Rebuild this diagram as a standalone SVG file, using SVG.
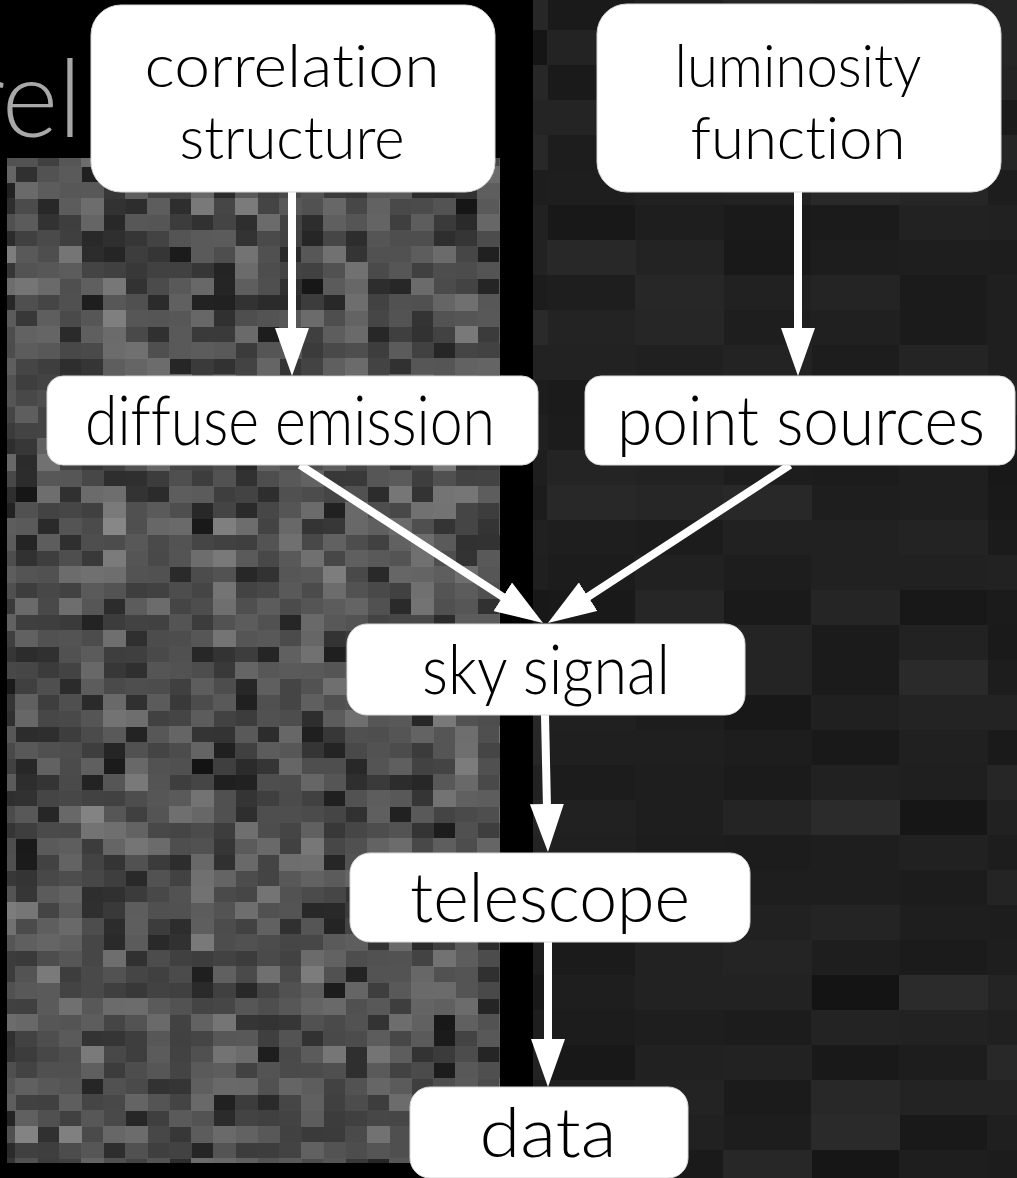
<svg xmlns="http://www.w3.org/2000/svg" width="1017" height="1178" viewBox="0 0 1017 1178">
  <style>
    .node rect { fill: #ffffff; stroke: #d8d8d8; stroke-width: 1; }
    .node text { font-family: Lato, "Open Sans", "Noto Sans", sans-serif; font-weight: 300; font-size: 68px; fill: #000000; text-anchor: middle; font-variant-ligatures: none; }
    .node text.two { font-size: 60px; }
    .edge { stroke: #ffffff; stroke-width: 8; fill: none; marker-end: url(#head); }
    .bgtext { font-family: Lato, "Open Sans", "Noto Sans", sans-serif; font-weight: 300; font-size: 108px; fill: #a8a8a8; text-anchor: end; }
  </style>
  <defs>
    <marker id="head" markerUnits="userSpaceOnUse" markerWidth="48" markerHeight="34" refX="4" refY="17" orient="auto" viewBox="0 0 48 34">
      <path d="M0,0 L48,17 L0,34 Z" fill="#ffffff"/>
    </marker>
    <filter id="pixL" filterUnits="userSpaceOnUse" primitiveUnits="userSpaceOnUse" x="-7" y="150" width="528" height="1024" color-interpolation-filters="sRGB">
      <feTurbulence type="fractalNoise" baseFrequency="0.9" numOctaves="1" seed="7" result="n"/>
      <feColorMatrix in="n" type="matrix" values="0.8 0 0 0 -0.1  0.8 0 0 0 -0.1  0.8 0 0 0 -0.1  0 0 0 0 1" result="g"/>
      <feFlood x="4" y="158" width="1" height="1" flood-color="#ffffff" result="dot"/>
      <feComposite in="dot" in2="dot" operator="over" x="-7" y="150" width="22" height="16" result="cell"/>
      <feTile in="cell" result="grid"/>
      <feComposite in="g" in2="grid" operator="in" result="pts"/>
      <feMorphology in="pts" operator="dilate" radius="11 8"/>
    </filter>
    <filter id="pixR" filterUnits="userSpaceOnUse" primitiveUnits="userSpaceOnUse" x="459" y="-5" width="616" height="1190" color-interpolation-filters="sRGB">
      <feTurbulence type="fractalNoise" baseFrequency="0.9" numOctaves="1" seed="3" result="n"/>
      <feColorMatrix in="n" type="matrix" values="0.18 0 0 0 0.035  0.18 0 0 0 0.035  0.18 0 0 0 0.035  0 0 0 0 1" result="g"/>
      <feFlood x="503" y="12" width="1" height="1" flood-color="#ffffff" result="dot"/>
      <feComposite in="dot" in2="dot" operator="over" x="459" y="-5" width="88" height="35" result="cell"/>
      <feTile in="cell" result="grid"/>
      <feComposite in="g" in2="grid" operator="in" result="pts"/>
      <feMorphology in="pts" operator="dilate" radius="44 17"/>
    </filter>
    <clipPath id="clipL">
      <rect x="7" y="158" width="493" height="1005"/>
    </clipPath>
    <clipPath id="clipR">
      <rect x="533" y="0" width="484" height="1178"/>
    </clipPath>
  </defs>

  <g id="background">
    <rect x="0" y="0" width="1017" height="1178" fill="#000000"/>
    <g clip-path="url(#clipL)">
      <rect x="-7" y="150" width="528" height="1024" fill="#4a4a4a" filter="url(#pixL)"/>
    </g>
    <g clip-path="url(#clipR)">
      <rect x="459" y="-5" width="616" height="1190" fill="#1e1e1e" filter="url(#pixR)"/>
    </g>
    <text class="bgtext" x="82" y="137">rel</text>
  </g>

  <g id="connectors">
    <line class="edge" x1="292" y1="192" x2="292" y2="332"/>
    <line class="edge" x1="798" y1="192" x2="798" y2="332"/>
    <line class="edge" x1="300" y1="465" x2="506.1" y2="599"/>
    <line class="edge" x1="790" y1="465" x2="584.8" y2="598.9"/>
    <line class="edge" x1="545" y1="715" x2="547" y2="808"/>
    <line class="edge" x1="548" y1="942" x2="548" y2="1043"/>
  </g>

  <g id="node-correlation" class="node">
    <rect x="91" y="5" width="404" height="187" rx="30"/>
    <text class="two" x="292" y="87" textLength="295" lengthAdjust="spacingAndGlyphs">correlation</text>
    <text class="two" x="292" y="159" textLength="225" lengthAdjust="spacingAndGlyphs">structure</text>
  </g>
  <g id="node-luminosity" class="node">
    <rect x="597" y="4" width="404" height="188" rx="30"/>
    <text class="two" x="798" y="87" textLength="247" lengthAdjust="spacingAndGlyphs">luminosity</text>
    <text class="two" x="798" y="159" textLength="215" lengthAdjust="spacingAndGlyphs">function</text>
  </g>
  <g id="node-diffuse" class="node">
    <rect x="47" y="376" width="491" height="89" rx="16"/>
    <text x="290" y="445" textLength="410" lengthAdjust="spacingAndGlyphs">diffuse emission</text>
  </g>
  <g id="node-point" class="node">
    <rect x="585" y="376" width="430" height="89" rx="16"/>
    <text x="801" y="445" textLength="368" lengthAdjust="spacingAndGlyphs">point sources</text>
  </g>
  <g id="node-sky" class="node">
    <rect x="347" y="624" width="398" height="91" rx="20"/>
    <text x="546" y="694" textLength="248" lengthAdjust="spacingAndGlyphs">sky signal</text>
  </g>
  <g id="node-telescope" class="node">
    <rect x="350" y="853" width="400" height="89" rx="20"/>
    <text x="550" y="922" textLength="280" lengthAdjust="spacingAndGlyphs">telescope</text>
  </g>
  <g id="node-data" class="node">
    <rect x="410" y="1087" width="278" height="91" rx="20"/>
    <text x="548" y="1157" textLength="137" lengthAdjust="spacingAndGlyphs">data</text>
  </g>
</svg>
